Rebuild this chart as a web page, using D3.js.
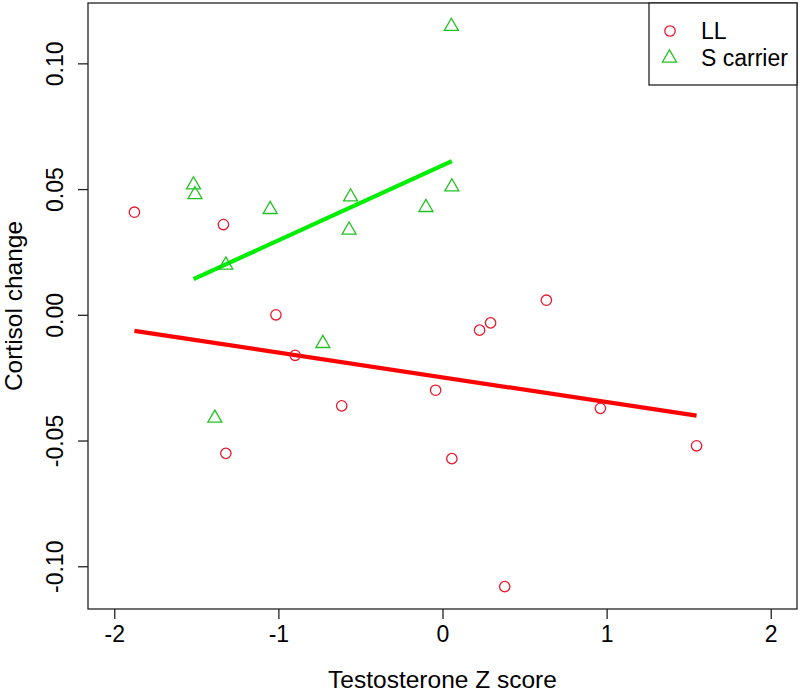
<!DOCTYPE html>
<html>
<head>
<meta charset="utf-8">
<script src="https://cdn.jsdelivr.net/npm/d3@7"></script>
<style>
  body { margin: 0; background: #fff; }
  svg { display: block; font-family: "Liberation Sans", Arial, sans-serif; }
</style>
</head>
<body>
<div id="chart"></div>
<script>
// LL group (red circles)
var llX = [-1.877, -1.335, -1.015, -0.898, -0.614, -1.320, -0.042, 0.057, 0.226, 0.293, 0.633, 0.379, 0.962, 1.548];
var llY = [0.0408, 0.0359, 0.0000, -0.0161, -0.0362, -0.0551, -0.0300, -0.0572, -0.0061, -0.0032, 0.0058, -0.1081, -0.0372, -0.0521];

// S carrier group (green triangles)
var sX = [-1.517, -1.508, -1.320, -1.050, -0.560, -0.569, -0.729, -1.387, -0.101, 0.054, 0.057];
var sY = [0.0517, 0.0478, 0.0198, 0.0419, 0.0469, 0.0337, -0.0114, -0.0411, 0.0427, 0.1147, 0.0509];

// fitted lines, ends
var fitLLX = [-1.877, 1.548];
var fitLLY = [-0.0064, -0.0401];
var fitSX = [-1.517, 0.057];
var fitSY = [0.0142, 0.0611];

var xTicks = [-2, -1, 0, 1, 2];
var yTicks = [-0.10, -0.05, 0.00, 0.05, 0.10];
var groups = ["LL", "S carrier"];

function drawChart() {
  var w = 800, h = 692;
  var left = 88, right = 797, top = 3, bottom = 609;
  var fs = 23, fsTitle = 24.5;

  var svg = d3.select("#chart")
    .append("svg")
    .attr("width", w)
    .attr("height", h);

  var xScale = d3.scaleLinear()
    .domain([-2.16, 2.16])
    .range([left, right]);

  var yScale = d3.scaleLinear()
    .domain([-0.117, 0.124])
    .range([bottom, top]);

  //x axis
  var xAxis = d3.axisBottom(xScale)
    .tickValues(xTicks)
    .tickSize(10)
    .tickFormat((d) => String(d));

  var gx = svg.append("g")
    .attr("transform", "translate(0," + bottom + ")")
    .call(xAxis);
  gx.select(".domain").remove();
  gx.selectAll("line").attr("stroke", "#222").attr("stroke-width", 1.3);
  gx.selectAll("text")
    .attr("y", 33)
    .attr("dy", 0)
    .attr("fill", "#000")
    .style("font-size", fs + "px");

  //y axis
  var yAxis = d3.axisLeft(yScale)
    .tickValues(yTicks)
    .tickSize(10)
    .tickFormat((d) => d.toFixed(2));

  var gy = svg.append("g")
    .attr("transform", "translate(" + left + ",0)")
    .call(yAxis);
  gy.select(".domain").remove();
  gy.selectAll("line").attr("stroke", "#222").attr("stroke-width", 1.3);
  gy.selectAll("text")
    .attr("x", 0)
    .attr("y", -25)
    .attr("dy", 0)
    .attr("transform", "rotate(-90)")
    .attr("text-anchor", "middle")
    .attr("fill", "#000")
    .style("font-size", fs + "px");

  //frame
  svg.append("rect")
    .attr("x", left)
    .attr("y", top)
    .attr("width", right - left)
    .attr("height", bottom - top)
    .attr("fill", "none")
    .attr("stroke", "#222")
    .attr("stroke-width", 1.3);

  //axis titles
  svg.append("text")
    .attr("x", (left + right) / 2)
    .attr("y", 688)
    .attr("text-anchor", "middle")
    .style("font-size", fsTitle + "px")
    .text("Testosterone Z score");

  svg.append("text")
    .attr("transform", "translate(22," + ((top + bottom) / 2) + ") rotate(-90)")
    .attr("text-anchor", "middle")
    .style("font-size", fsTitle + "px")
    .text("Cortisol change");

  //regression lines
  var line = d3.line()
    .x((d) => xScale(d[0]))
    .y((d) => yScale(d[1]));

  svg.append("path")
    .datum(d3.zip(fitLLX, fitLLY))
    .attr("d", line)
    .attr("fill", "none")
    .attr("stroke", "#ff0000")
    .attr("stroke-width", 4.2);

  svg.append("path")
    .datum(d3.zip(fitSX, fitSY))
    .attr("d", line)
    .attr("fill", "none")
    .attr("stroke", "#00ee00")
    .attr("stroke-width", 4.2);

  //points
  var s = 5.2;
  var tri = function (cx, cy) {
    var r = 1.555 * s, hw = 1.347 * s, yb = 0.778 * s;
    return "M" + cx + "," + (cy - r) +
      "L" + (cx + hw) + "," + (cy + yb) +
      "L" + (cx - hw) + "," + (cy + yb) + "Z";
  };

  svg.selectAll("circle.ll")
    .data(d3.zip(llX, llY))
    .enter()
    .append("circle")
    .attr("class", "ll")
    .attr("cx", (d) => xScale(d[0]))
    .attr("cy", (d) => yScale(d[1]))
    .attr("r", s)
    .attr("fill", "none")
    .attr("stroke", "#e8182a")
    .attr("stroke-width", 1.3);

  svg.selectAll("path.sc")
    .data(d3.zip(sX, sY))
    .enter()
    .append("path")
    .attr("class", "sc")
    .attr("d", (d) => tri(xScale(d[0]), yScale(d[1])))
    .attr("fill", "none")
    .attr("stroke", "#22c222")
    .attr("stroke-width", 1.3);

  //legend
  var lg = svg.append("g");
  lg.append("rect")
    .attr("x", 649)
    .attr("y", top)
    .attr("width", right - 649)
    .attr("height", 82)
    .attr("fill", "#fff")
    .attr("stroke", "#222")
    .attr("stroke-width", 1.3);

  lg.append("circle")
    .attr("cx", 670)
    .attr("cy", 31)
    .attr("r", s)
    .attr("fill", "none")
    .attr("stroke", "#e8182a")
    .attr("stroke-width", 1.3);

  lg.append("path")
    .attr("d", tri(669.5, 58))
    .attr("fill", "none")
    .attr("stroke", "#22c222")
    .attr("stroke-width", 1.3);

  lg.selectAll("text")
    .data(groups)
    .enter()
    .append("text")
    .attr("x", 701)
    .attr("y", (d, i) => 39 + i * 27)
    .style("font-size", fs + "px")
    .text((d) => d);
}

window.onload = function () {
  drawChart();
};
</script>
</body>
</html>
